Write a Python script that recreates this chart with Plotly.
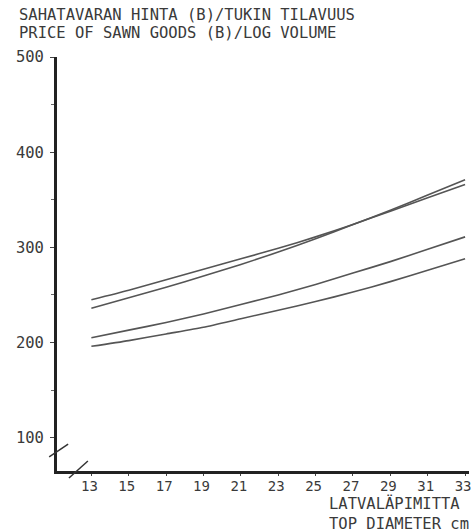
import plotly.graph_objects as go

# Top diameter classes (cm)
diameters = [13, 15, 17, 19, 21, 23, 25, 27, 29, 31, 33]

# Price of sawn goods (B) per log volume, four curves
curve_a = [245, 255, 266, 277, 288, 299, 311, 324, 338, 352, 366]
curve_b = [236, 247, 258, 270, 282, 295, 309, 324, 339, 355, 371]
curve_c = [205, 213, 221, 230, 240, 250, 261, 273, 285, 298, 311]
curve_d = [196, 202, 209, 216, 225, 234, 243, 253, 264, 276, 288]

x_ticks = [13, 15, 17, 19, 21, 23, 25, 27, 29, 31, 33]
y_ticks = [100, 200, 300, 400, 500]
y_minor = [150, 250, 350, 450]

title_fi = "SAHATAVARAN HINTA (B)/TUKIN TILAVUUS"
title_en = "PRICE OF SAWN GOODS (B)/LOG VOLUME"
xlabel_fi = "LATVALÄPIMITTA"
xlabel_en = "TOP DIAMETER cm"

FONT = "DejaVu Sans Mono"
INK = "#3a3a3a"
LINE = "#555555"
FS = 15.5

fig = go.Figure()
for ys in (curve_a, curve_b, curve_c, curve_d):
    fig.add_trace(go.Scatter(
        x=diameters, y=ys, mode="lines",
        line=dict(color=LINE, width=1.6, shape="spline", smoothing=0.6),
        showlegend=False, hoverinfo="skip",
    ))

fig.update_layout(
    width=471, height=532,
    margin=dict(l=57, r=0, t=57, b=61),
    paper_bgcolor="white", plot_bgcolor="white",
    font=dict(family=FONT, color=INK, size=FS),
    xaxis=dict(
        range=[11.16, 33.21], tickvals=x_ticks,
        showgrid=False, zeroline=False,
        showline=True, linecolor="#222222", linewidth=2.5,
        ticks="outside", ticklen=2, tickcolor="#444444",
        tickfont=dict(size=14, color=INK, family=FONT),
        ticklabeloverflow="allow", ticklabelstandoff=-2, ticklabelshift=-2,
    ),
    yaxis=dict(
        range=[65, 500], tickvals=y_ticks,
        showgrid=False, zeroline=False,
        showline=True, linecolor="#222222", linewidth=3,
        ticks="outside", ticklen=4, tickcolor="#444444",
        tickfont=dict(size=FS, color=INK, family=FONT),
        ticklabelstandoff=3,
        minor=dict(tickvals=y_minor, ticks="outside", ticklen=3, tickcolor="#666666"),
    ),
)

# Axis break marks
for x0, y0, x1, y1 in [(-0.019, 0.034, 0.027, 0.065), (0.029, -0.017, 0.075, 0.024)]:
    fig.add_shape(type="line", xref="paper", yref="paper",
                  x0=x0, y0=y0, x1=x1, y1=y1,
                  line=dict(color="#333333", width=1.5))

# Titles
for text, x, y in [(title_fi, -0.0966, 1.101), (title_en, -0.0966, 1.058),
                   (xlabel_fi, 0.655, -0.079), (xlabel_en, 0.655, -0.127)]:
    fig.add_annotation(text=text, xref="paper", yref="paper",
                       x=x, y=y, xanchor="left", yanchor="middle",
                       showarrow=False, font=dict(size=FS, color=INK, family=FONT))

fig.write_html("out.html")
